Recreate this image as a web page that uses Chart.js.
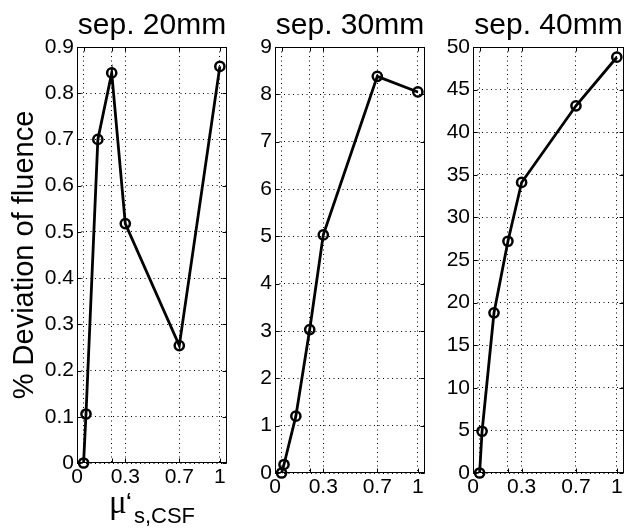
<!DOCTYPE html>
<html><head><meta charset="utf-8">
<script src="https://cdn.jsdelivr.net/npm/chart.js@4.4.1/dist/chart.umd.min.js"></script>
<style>
html,body{margin:0;padding:0;background:#fff;overflow:hidden;}
#wrap{position:relative;width:632px;height:531px;background:#fff;}
canvas{position:absolute;left:0;top:0;}
</style></head><body>
<div id="wrap">
<canvas id="c1" width="632" height="531"></canvas>
<canvas id="c2" width="632" height="531"></canvas>
<canvas id="c3" width="632" height="531"></canvas>
</div>
<script>
// ---- data ----
const muValues = [0.046, 0.063, 0.146, 0.243, 0.338, 0.716, 1.0];
const dev20 = [0, 0.106, 0.700, 0.844, 0.518, 0.254, 0.858];
const dev30 = [0, 0.18, 1.20, 3.03, 5.03, 8.38, 8.05];
const dev40 = [0, 4.9, 18.8, 27.2, 34.1, 43.1, 48.8];
const xTickValues = [0, 0.046, 0.243, 0.338, 0.716, 1.0];
const xTickLabels = ['0', '', '', '0.3', '0.7', '1'];
const panelTitles = ['sep. 20mm', 'sep. 30mm', 'sep. 40mm'];
const yMaxes = [0.9, 9, 50];
const ySteps = [0.1, 1, 5];
const yAxisLabel = '% Deviation of fluence';
const xLabelMain = 'μ';
const xLabelPrime = '‘';
const xLabelSub = 's,CSF';

// ---- layout / style ----
const W = 632, H = 531;
const geom = [
  {left: 77, right: 227, bottom: 463, yw: 77},
  {left: 275, right: 425, bottom: 473, yw: 50},
  {left: 473, right: 624, bottom: 473, yw: 50}
];
const FONT = '"Liberation Sans", Arial, Helvetica, sans-serif';

const framePlugin = {
  id: 'frame',
  beforeDatasetsDraw(chart) {
    const {ctx, chartArea: a, scales} = chart;
    ctx.save();
    ctx.strokeStyle = '#000';
    ctx.lineWidth = 1;
    ctx.setLineDash([]);
    const L = Math.round(a.left) + 0.5, R = Math.round(a.right) - 0.5;
    const T = Math.round(a.top) + 0.5, B = Math.round(a.bottom) - 0.5;
    ctx.strokeRect(L, T, R - L, B - T);
    const tl = 4;
    ctx.beginPath();
    scales.x.ticks.forEach(t => {
      const px = Math.round(scales.x.getPixelForValue(t.value)) + 0.5;
      ctx.moveTo(px, B); ctx.lineTo(px, B - tl);
      ctx.moveTo(px, T); ctx.lineTo(px, T + tl);
    });
    scales.y.ticks.forEach(t => {
      const py = Math.round(scales.y.getPixelForValue(t.value)) + 0.5;
      ctx.moveTo(L, py); ctx.lineTo(L + tl, py);
      ctx.moveTo(R, py); ctx.lineTo(R - tl, py);
    });
    ctx.stroke();
    ctx.restore();
  }
};

const xLabelPlugin = {
  id: 'xlabel',
  afterDraw(chart, args, opts) {
    if (!opts.show) return;
    const {ctx, chartArea: a} = chart;
    ctx.save();
    ctx.fillStyle = '#000';
    ctx.textBaseline = 'alphabetic';
    ctx.textAlign = 'left';
    const f1 = '33px "Liberation Serif", "DejaVu Serif", serif';
    const f2 = '28px ' + FONT;
    const f3 = '22px ' + FONT;
    ctx.font = f1; const w1 = ctx.measureText(xLabelMain).width;
    ctx.font = f2; const w2 = ctx.measureText(xLabelPrime).width;
    ctx.font = f3; const w3 = ctx.measureText(xLabelSub).width;
    const total = w1 + w2 + w3 + 1;
    let x = (a.left + a.right) / 2 - total / 2;
    const base = a.bottom + 50;
    ctx.font = f1; ctx.fillText(xLabelMain, x, base); x += w1;
    ctx.font = f2; ctx.fillText(xLabelPrime, x - 1, base - 1); x += w2 + 1;
    ctx.font = f3; ctx.fillText(xLabelSub, x, base + 10);
    ctx.restore();
  }
};

const series = [dev20, dev30, dev40];

series.forEach((vals, i) => {
  const g = geom[i];
  const ctx = document.getElementById('c' + (i + 1)).getContext('2d');
  new Chart(ctx, {
    type: 'line',
    data: {
      datasets: [{
        data: muValues.map((x, k) => ({x: x, y: vals[k]})),
        borderColor: '#000',
        borderWidth: 2.8,
        tension: 0,
        pointRadius: 4.6,
        pointBorderWidth: 2.5,
        pointBorderColor: '#000',
        pointBackgroundColor: 'rgba(0,0,0,0)',
        pointStyle: 'circle',
        clip: false
      }]
    },
    options: {
      responsive: false,
      animation: false,
      devicePixelRatio: 1,
      layout: {
        autoPadding: false,
        padding: {left: g.left - g.yw, right: W - g.right, top: 0, bottom: 0}
      },
      plugins: {
        legend: {display: false},
        tooltip: {enabled: false},
        title: {
          display: true,
          text: panelTitles[i],
          fullSize: false,
          color: '#000',
          font: {family: FONT, size: 30, weight: 'normal', lineHeight: 1.2},
          padding: {top: 8, bottom: 3}
        },
        xlabel: {show: i === 0}
      },
      scales: {
        x: {
          type: 'linear',
          min: 0,
          max: 1.05,
          afterBuildTicks: (s) => { s.ticks = xTickValues.map(v => ({value: v})); },
          afterFit: (s) => { s.height = H - g.bottom; },
          ticks: {
            autoSkip: false,
            maxRotation: 0,
            padding: 2,
            color: '#000',
            font: {family: FONT, size: 21},
            callback: (v, idx) => xTickLabels[idx]
          },
          grid: {drawTicks: false, color: '#000', lineWidth: 1},
          border: {display: false, dash: [1, 3.5]}
        },
        y: {
          type: 'linear',
          min: 0,
          max: yMaxes[i],
          afterFit: (s) => { s.width = g.yw; },
          ticks: {
            stepSize: ySteps[i],
            padding: 3,
            color: '#000',
            font: {family: FONT, size: 21}
          },
          grid: {drawTicks: false, color: '#000', lineWidth: 1},
          border: {display: false, dash: [1, 3.5]},
          title: {
            display: i === 0,
            text: yAxisLabel,
            color: '#000',
            font: {family: FONT, size: 29, weight: 'normal', lineHeight: 1.2},
            padding: {top: 8, bottom: 0}
          }
        }
      }
    },
    plugins: [framePlugin, xLabelPlugin]
  });
});
</script>
</body></html>
